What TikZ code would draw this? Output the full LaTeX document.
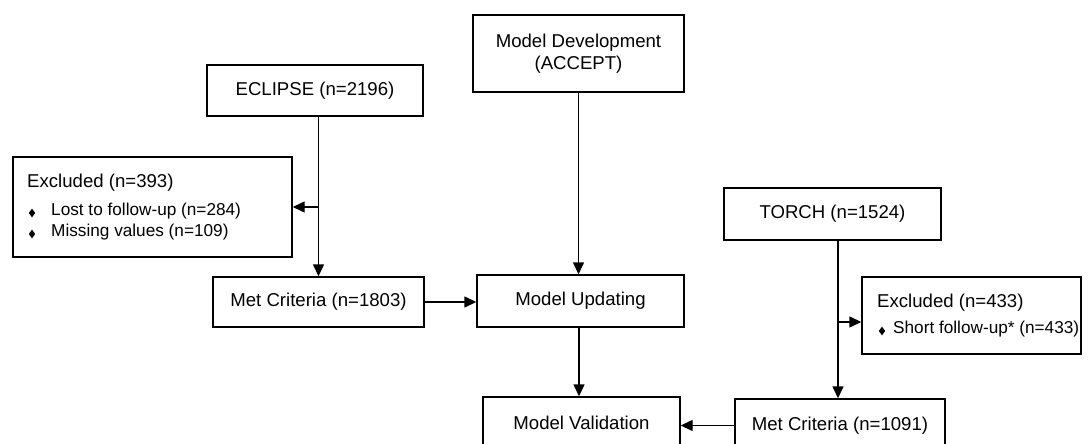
\documentclass[tikz,border=0pt]{standalone}
\usepackage{fontspec}
\setmainfont{Liberation Sans}
\usetikzlibrary{arrows.meta,shapes.geometric}

\tikzset{
  box/.style={draw=black, line width=1.4pt, inner sep=0pt, align=center,
    font=\fontsize{18.6}{22}\selectfont},
  lbl/.style={anchor=west, inner sep=0pt, font=\fontsize{18.6}{22}\selectfont},
  item/.style={anchor=west, inner sep=0pt, font=\fontsize{17.2}{20}\selectfont},
  bullet/.style={diamond, fill=black, draw=none, inner sep=0pt,
    minimum width=6.5pt, minimum height=9pt},
  flow/.style={line width=1.4pt, -{Triangle[length=12pt,width=11pt]}}
}

\begin{document}
\begin{tikzpicture}[x=1pt,y=-1pt]
\clip (0,0) rectangle (1088,444);
\fill[white] (0,0) rectangle (1088,444);

% study boxes
\node[box, minimum width=216pt, minimum height=51pt] (eclipse) at (315,90.5) {ECLIPSE (n=2196)};
\node[box, minimum width=211pt, minimum height=77pt] (dev) at (578.5,53.5) {Model Development\\(ACCEPT)};
\node[box, minimum width=217pt, minimum height=52pt] (torch) at (832.5,214) {TORCH (n=1524)};

% exclusions, ECLIPSE
\node[box, minimum width=279pt, minimum height=100pt] (exc1) at (152.5,207) {};
\node[lbl] (exc1t) at (27,183) {Excluded (n=393)};
\node[bullet] (b1) at (32,213) {};
\node[item] (exc1a) at (51,211) {Lost to follow-up (n=284)};
\node[bullet] (b2) at (32,234) {};
\node[item] (exc1b) at (51,232) {Missing values (n=109)};

% exclusions, TORCH
\node[box, minimum width=219pt, minimum height=77pt] (exc2) at (971.5,315.5) {};
\node[lbl] (exc2t) at (877,303) {Excluded (n=433)};
\node[bullet] (b3) at (882,331) {};
\node[item] (exc2a) at (893,329) {Short follow-up* (n=433)};

% analysis stages
\node[box, minimum width=211pt, minimum height=50pt] (met1) at (318.5,302) {Met Criteria (n=1803)};
\node[box, minimum width=207pt, minimum height=52pt] (upd) at (580.5,301) {Model Updating};
\node[box, minimum width=197pt, minimum height=52pt] (val) at (581.5,423) {Model Validation};
\node[box, minimum width=210pt, minimum height=53pt] (met2) at (840,425.5) {Met Criteria (n=1091)};

% junction points and connector lanes
\coordinate (j1) at (318.5,207);
\coordinate (j2) at (838,322);
\coordinate (lane) at (579,0);

% connectors
\draw[flow] (eclipse.south -| met1.north) -- (met1.north);
\draw[flow] (j1) -- (j1 -| exc1.east);
\draw[flow] (dev.south) -- (dev.south |- upd.north);
\draw[flow] (met1.east) -- (met1.east -| upd.west);
\draw[flow] (upd.south -| lane) -- (lane |- val.north);
\draw[flow] (torch.south -| j2) -- (j2 |- met2.north);
\draw[flow] (j2) -- (j2 -| exc2.west);
\draw[flow] (met2.west) -- (met2.west -| val.east);
\end{tikzpicture}
\end{document}
